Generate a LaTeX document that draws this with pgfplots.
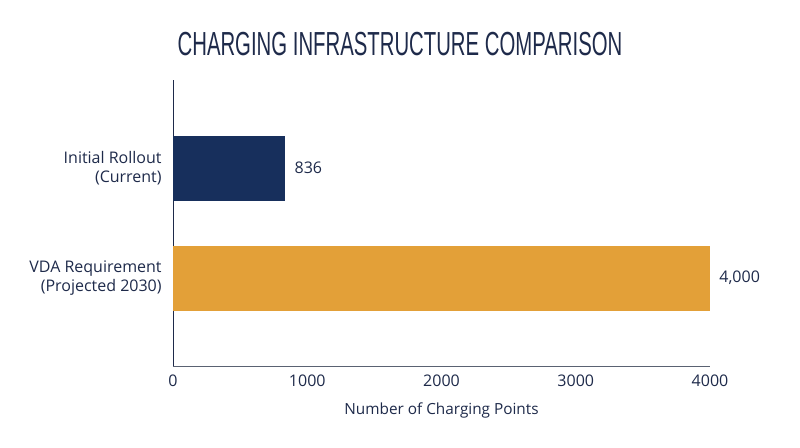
\documentclass[border=0pt]{standalone}
\usepackage{pgfplots}
\pgfplotsset{compat=1.18}
\usepackage{fontspec}
\setmainfont{Open Sans}
\newfontfamily\titlefont[FakeStretch=0.61]{Liberation Sans}
\definecolor{navybar}{HTML}{172F5C}
\definecolor{orangebar}{HTML}{E3A038}
\definecolor{txt}{HTML}{1E2A4A}
\definecolor{axisline}{HTML}{5A6272}

\begin{document}
\begin{tikzpicture}
\begin{axis}[
    at={(0,0)}, anchor=south west,
    scale only axis,
    width=402.75pt, height=214.5pt,
    xbar, bar width=48.75pt,
    xmin=0, xmax=4000,
    ymin=-0.8, ymax=1.8,
    ytick={0,1},
    yticklabels={{VDA Requirement\\(Projected 2030)},{Initial Rollout\\(Current)}},
    yticklabel style={align=right, font=\fontsize{12}{14}\selectfont, text=txt, xshift=-5pt},
    xtick={0,1000,2000,3000,4000},
    xticklabel style={font=\fontsize{12}{14}\selectfont, text=txt, yshift=-3.5pt},
    /pgf/number format/1000 sep={},
    /pgf/number format/assume math mode=true,
    axis x line*=bottom, axis y line*=left,
    x axis line style={-, draw=axisline, line width=0.6pt},
    y axis line style={-, draw=txt, line width=0.6pt},
    major tick length=0pt,
    xlabel={Number of Charging Points},
    xlabel style={font=\fontsize{11.5}{13}\selectfont, text=txt, yshift=-5pt},
    nodes near coords,
    point meta=explicit symbolic,
    every node near coord/.append style={font=\fontsize{12}{14}\selectfont, text=txt, anchor=west, xshift=3.5pt},
    clip=false,
]
\addplot[fill=navybar, draw=none, bar shift=0pt] coordinates {(836,1) [836]};
\addplot[fill=orangebar, draw=none, bar shift=0pt] coordinates {(4000,0) [4{,}000]};
\end{axis}
\node[anchor=base, font=\titlefont\fontsize{25}{30}\selectfont, text=txt] at (170.25pt,232.5pt) {CHARGING INFRASTRUCTURE COMPARISON};
\path[use as bounding box] (-129.75pt,-60.75pt) rectangle (470.25pt,274.5pt);
\end{tikzpicture}
\end{document}
